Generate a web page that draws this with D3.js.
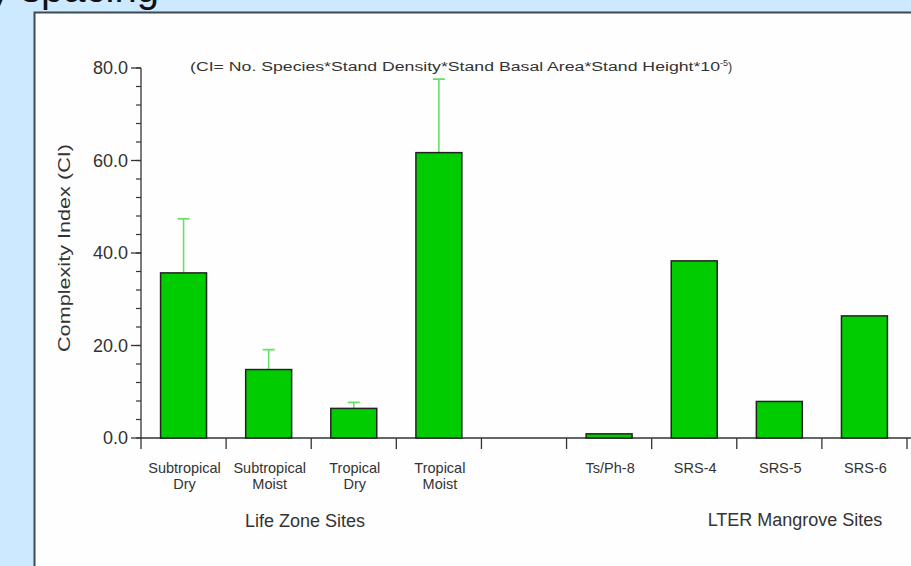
<!DOCTYPE html>
<html lang="en">
<head>
<meta charset="utf-8">
<title>Complexity Index</title>
<script src="https://d3js.org/d3.v7.min.js"></script>
<style>
  body { margin: 0; background: #cce9ff; overflow: hidden; }
  text { font-family: "Liberation Sans", Arial, sans-serif; fill: #333; }
</style>
</head>
<body>
<div id="chart"></div>
<script>
// categories along the x axis ("" is the empty gap slot)
var sites = ["Subtropical Dry", "Subtropical Moist", "Tropical Dry", "Tropical Moist", "", "Ts/Ph-8", "SRS-4", "SRS-5", "SRS-6"];
var siteLabels = [["Subtropical", "Dry"], ["Subtropical", "Moist"], ["Tropical", "Dry"], ["Tropical", "Moist"], [], ["Ts/Ph-8"], ["SRS-4"], ["SRS-5"], ["SRS-6"]];
// complexity index values and upper error (mean + sd), null = none
var ciValues = [35.7, 14.8, 6.4, 61.7, null, 0.9, 38.3, 7.9, 26.4];
var ciError  = [47.4, 19.1, 7.7, 77.6, null, null, null, null, null];
var yTicks = [0, 20, 40, 60, 80];

var width = 911, height = 566;

var svg = d3.select("#chart").append("svg")
    .style("display", "block")
    .attr("width", width)
    .attr("height", height);

// heading of the page behind, mostly above the window
svg.append("text")
    .attr("x", -10).attr("y", 2)
    .style("font-size", "40px").style("fill", "#111")
    .text("y spacing");

// white panel
svg.append("rect")
    .attr("x", 34).attr("y", 12)
    .attr("width", 900).attr("height", 600)
    .attr("fill", "#fefefe");
svg.append("path")
    .attr("d", "M34.5,600V12.5H911")
    .attr("fill", "none")
    .attr("stroke", "#3d4a52")
    .attr("stroke-width", 2);

var x = d3.scaleBand()
    .domain(sites)
    .range([141, 907])
    .paddingInner(0.46)
    .paddingOuter(0.23);

var y = d3.scaleLinear()
    .domain([0, 80])
    .range([438, 68]);

var step = x.step();

// y axis
var yAxis = svg.append("g");
yAxis.append("line")
    .attr("x1", 141).attr("x2", 141)
    .attr("y1", y(0)).attr("y2", y(80))
    .attr("stroke", "#333").attr("stroke-width", 1.3);
yAxis.selectAll(".minor")
    .data(d3.range(0, 81, 4))
    .enter().append("line")
    .attr("x1", 136).attr("x2", 141)
    .attr("y1", function(d) { return y(d); })
    .attr("y2", function(d) { return y(d); })
    .attr("stroke", "#333").attr("stroke-width", 1.2);
yAxis.selectAll(".major")
    .data(yTicks)
    .enter().append("line")
    .attr("x1", 131).attr("x2", 141)
    .attr("y1", function(d) { return y(d); })
    .attr("y2", function(d) { return y(d); })
    .attr("stroke", "#333").attr("stroke-width", 1.3);
yAxis.selectAll("text")
    .data(yTicks)
    .enter().append("text")
    .attr("x", 128)
    .attr("y", function(d) { return y(d); })
    .attr("dy", "0.35em")
    .attr("text-anchor", "end")
    .style("font-size", "18px")
    .text(function(d) { return d.toFixed(1); });

svg.append("text")
    .attr("transform", "translate(70,248) rotate(-90)")
    .attr("text-anchor", "middle")
    .attr("textLength", 208)
    .attr("lengthAdjust", "spacingAndGlyphs")
    .style("font-size", "17px")
    .text("Complexity Index (CI)");

// x axis
svg.append("line")
    .attr("x1", 141).attr("x2", 911)
    .attr("y1", y(0)).attr("y2", y(0))
    .attr("stroke", "#333").attr("stroke-width", 1.3);
var bounds = sites.map(function(d) { return x(d) - step * 0.23; });
bounds.push(907);
svg.selectAll(".xtick")
    .data(bounds)
    .enter().append("line")
    .attr("x1", function(d) { return d; })
    .attr("x2", function(d) { return d; })
    .attr("y1", y(0)).attr("y2", y(0) + 11)
    .attr("stroke", "#333").attr("stroke-width", 1.3);

var labelG = svg.selectAll(".xlab")
    .data(sites)
    .enter().append("text")
    .attr("text-anchor", "middle")
    .style("font-size", "14.5px")
    .attr("transform", function(d) { return "translate(" + (x(d) + x.bandwidth() / 2 + 1) + ",473)"; });
labelG.each(function(d, i) {
    var t = d3.select(this);
    siteLabels[i].forEach(function(s, j) {
        t.append("tspan").attr("x", 0).attr("dy", j === 0 ? 0 : 16).text(s);
    });
});

svg.append("text")
    .attr("x", 305).attr("y", 527)
    .attr("text-anchor", "middle")
    .style("font-size", "18px")
    .text("Life Zone Sites");
svg.append("text")
    .attr("x", 795).attr("y", 526)
    .attr("text-anchor", "middle")
    .style("font-size", "18px")
    .text("LTER Mangrove Sites");

// formula note
var note = svg.append("text")
    .attr("x", 190).attr("y", 71)
    .style("font-size", "12.5px");
note.append("tspan")
    .attr("textLength", 530)
    .attr("lengthAdjust", "spacingAndGlyphs")
    .text("(CI= No. Species*Stand Density*Stand Basal Area*Stand Height*10");
note.append("tspan").attr("dy", -5).style("font-size", "9px").text("-5");
note.append("tspan").attr("dy", 5).text(")");

// error bars
var errData = sites.map(function(d, i) { return { site: d, v: ciValues[i], e: ciError[i] }; })
    .filter(function(d) { return d.e !== null; });
var eb = svg.selectAll(".err").data(errData).enter().append("g");
eb.append("line")
    .attr("x1", function(d) { return x(d.site) + x.bandwidth() / 2; })
    .attr("x2", function(d) { return x(d.site) + x.bandwidth() / 2; })
    .attr("y1", function(d) { return y(d.v); })
    .attr("y2", function(d) { return y(d.e); })
    .attr("stroke", "#66e066").attr("stroke-width", 1.6);
eb.append("line")
    .attr("x1", function(d) { return x(d.site) + x.bandwidth() / 2 - 6; })
    .attr("x2", function(d) { return x(d.site) + x.bandwidth() / 2 + 6; })
    .attr("y1", function(d) { return y(d.e); })
    .attr("y2", function(d) { return y(d.e); })
    .attr("stroke", "#66e066").attr("stroke-width", 1.8);

// bars
var barData = sites.map(function(d, i) { return { site: d, v: ciValues[i] }; })
    .filter(function(d) { return d.v !== null; });
svg.selectAll(".bar")
    .data(barData)
    .enter().append("rect")
    .attr("x", function(d) { return x(d.site); })
    .attr("y", function(d) { return y(d.v); })
    .attr("width", x.bandwidth())
    .attr("height", function(d) { return y(0) - y(d.v); })
    .attr("fill", "#00cc00")
    .attr("stroke", "#222")
    .attr("stroke-width", 1.5);
</script>
</body>
</html>
